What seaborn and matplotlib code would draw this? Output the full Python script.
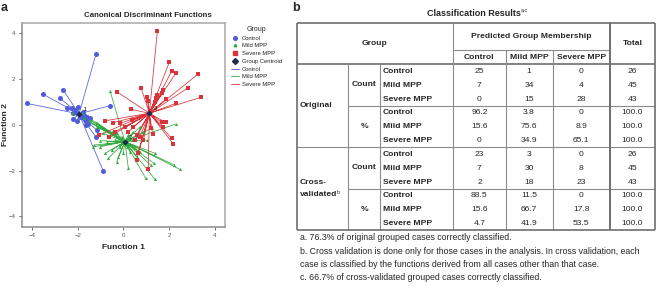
import numpy as np
import pandas as pd
import matplotlib
matplotlib.use("Agg")
import matplotlib.pyplot as plt
import seaborn as sns
from matplotlib.lines import Line2D

# ---------------- data: canonical discriminant scores ----------------
groups = ["Control", "Mild MPP", "Severe MPP"]

control_f1 = [-4.23, -3.50, -2.63, -2.77, -2.48, -1.20, -0.58, -0.88, -1.21, -1.17,
              -2.19, -2.01, -2.26, -2.12, -2.04, -1.82, -1.68, -1.58, -1.46, -1.64,
              -1.53, -1.64, -1.90, -1.75, -2.22, -1.97]
control_f2 = [0.93, 1.32, 1.51, 1.15, 0.71, 3.07, 0.83, -2.02, -0.52, -0.23,
              0.25, 0.17, 0.71, 0.64, 0.49, 0.42, 0.38, 0.35, 0.28, 0.20,
              0.03, -0.01, 0.35, 0.57, 0.49, 0.79]

mild_f1 = [-0.58, 2.29, 2.23, 2.48, 1.39, 1.34, 0.98, 1.39, 1.20, 0.22,
           -0.29, -0.66, -0.80, -0.51, -1.31, -1.27, -1.02, -0.73, -0.88, -1.17,
           -1.46, -1.72, -1.82, -2.26, 0.44, 0.73, 0.22, 0.36, -0.15, -0.36,
           0.15, 0.51, 0.73, 1.02, 1.24, 0.00, -0.22, -1.17, -0.51, -1.02,
           0.29, 0.58, -0.07, -0.29, 0.88]
mild_f2 = [1.47, 0.03, -1.76, -1.95, -1.25, -1.69, -2.34, -2.39, -1.76, -1.91,
           -1.62, -1.47, -1.25, -1.11, -0.96, -0.89, -0.70, -0.74, -0.38, 0.09,
           0.20, 0.28, 0.49, 0.52, -0.31, -0.09, -0.45, -0.67, -0.96, -0.67,
           -0.96, -1.03, -1.18, -0.67, -0.16, -1.25, -1.40, -0.09, -0.31, -0.96,
           -1.18, -1.40, -0.52, -0.38, -0.31]

severe_f1 = [1.49, 2.01, 2.12, 2.29, 3.26, 2.85, 3.39, 2.29, 1.87, 1.75,
             1.68, 1.46, 1.43, 1.39, 1.02, 0.77, 1.09, 0.34, -0.29, -0.80,
             -0.44, -0.15, -1.05, -0.61, -0.36, 0.07, 0.22, 0.44, 0.58, 0.51,
             0.63, 0.58, 1.09, 1.20, 1.28, 1.68, 1.85, 1.75, 2.12, 2.19,
             0.36, 0.73, 0.88]
severe_f2 = [4.09, 2.72, 2.34, 2.24, 2.20, 1.62, 1.19, 0.93, 1.12, 1.51,
             1.37, 1.30, 1.15, 1.00, 1.22, 1.62, 1.03, 0.67, 1.44, 0.17,
             0.09, 0.06, -0.45, -0.52, -0.31, -0.12, -0.31, -0.09, -0.45, -0.67,
             -1.25, -1.54, -1.94, -0.16, -0.41, 0.10, 0.10, -0.09, -0.60, -0.84,
             0.20, -0.52, -0.67]

centroid_f1 = [-1.94, 0.07, 1.14]
centroid_f2 = [0.47, -0.74, 0.50]
centroid_labels = ["1", "2", "3"]

# ---------------- data: classification table ----------------
pred_cols = ["Control", "Mild MPP", "Severe MPP"]
row_labels = ["Control", "Mild MPP", "Severe MPP"]
orig_count = [["25", "1", "0"], ["7", "34", "4"], ["0", "15", "28"]]
orig_pct = [["96.2", "3.8", "0"], ["15.6", "75.6", "8.9"], ["0", "34.9", "65.1"]]
cv_count = [["23", "3", "0"], ["7", "30", "8"], ["2", "18", "23"]]
cv_pct = [["88.5", "11.5", "0"], ["15.6", "66.7", "17.8"], ["4.7", "41.9", "53.5"]]
count_total = ["26", "45", "43"]
pct_total = ["100.0", "100.0", "100.0"]
footnotes = [
    "a. 76.3% of original grouped cases correctly classified.",
    "b. Cross validation is done only for those cases in the analysis. In cross validation, each",
    "case is classified by the functions derived from all cases other than that case.",
    "c. 66.7% of cross-validated grouped cases correctly classified.",
]

# ---------------- style ----------------
sns.set_style("white")
plt.rcParams["font.family"] = ["Liberation Sans", "DejaVu Sans"]

colors = {"Control": "#4F5CD8", "Mild MPP": "#33AA3E", "Severe MPP": "#D9333B"}
markers = {"Control": "o", "Mild MPP": "^", "Severe MPP": "s"}
msize = {"Control": 13, "Mild MPP": 5, "Severe MPP": 10}
centroid_color = "#1C2B4C"

fig = plt.figure(figsize=(6.56, 2.86), dpi=100)
W, H = 656, 286

def fx(px):
    return px / W

def fy(py):
    return 1 - py / H

ax_l, ax_r, ax_t, ax_b = 21.7, 225.0, 22.7, 226.7
ax = fig.add_axes([fx(ax_l), fy(ax_b), fx(ax_r) - fx(ax_l), fy(ax_t) - fy(ax_b)])

data = {
    "Control": (control_f1, control_f2),
    "Mild MPP": (mild_f1, mild_f2),
    "Severe MPP": (severe_f1, severe_f2),
}

# lines from group centroid to every case
for gi, g in enumerate(groups):
    xs, ys = [], []
    for x, y in zip(*data[g]):
        xs += [centroid_f1[gi], x, np.nan]
        ys += [centroid_f2[gi], y, np.nan]
    ax.plot(xs, ys, color=colors[g], lw=0.55, zorder=2)

for g in groups:
    df = pd.DataFrame({"Function 1": data[g][0], "Function 2": data[g][1], "Group": g})
    sns.scatterplot(data=df, x="Function 1", y="Function 2", color=colors[g],
                    marker=markers[g], s=msize[g], linewidth=0, legend=False,
                    ax=ax, zorder=3)

cdf = pd.DataFrame({"Function 1": centroid_f1, "Function 2": centroid_f2})
sns.scatterplot(data=cdf, x="Function 1", y="Function 2", color=centroid_color,
                marker="D", s=10, linewidth=0, legend=False, ax=ax, zorder=4)
for x, y, t in zip(centroid_f1, centroid_f2, centroid_labels):
    ax.text(x + 0.18, y + 0.12, t, fontsize=4, color="black", zorder=5)

ax.set_xlim(-4.45, 4.45)
ax.set_ylim(-4.45, 4.45)
ax.set_xticks([-4, -2, 0, 2, 4])
ax.set_yticks([-4, -2, 0, 2, 4])
ax.tick_params(axis="both", labelsize=4.3, colors="#555555", length=2.5, width=0.6,
               direction="out", pad=2, bottom=True, left=True)
ax.set_xlabel("Function 1", fontsize=6, fontweight="bold", labelpad=4)
ax.set_ylabel("Function 2", fontsize=6, fontweight="bold")
ax.yaxis.label.set_va("center")
ax.yaxis.set_label_coords((5.5 - ax_l) / (ax_r - ax_l), 0.5)
for side, sp in ax.spines.items():
    sp.set_color("#8A8A8A" if side in ("left", "bottom") else "#A8A8A8")
    sp.set_linewidth(1.1)

fig.text(fx(148), fy(15.7), "Canonical Discriminant Functions", fontsize=5.7,
         fontweight="bold", ha="center", va="center")

handles = [
    Line2D([], [], ls="none", marker="o", ms=2.6, color=colors["Control"], label="Control"),
    Line2D([], [], ls="none", marker="^", ms=1.8, color=colors["Mild MPP"], label="Mild MPP"),
    Line2D([], [], ls="none", marker="s", ms=2.4, color=colors["Severe MPP"], label="Severe MPP"),
    Line2D([], [], ls="none", marker="D", ms=3.0, color=centroid_color, label="Group Centroid"),
    Line2D([], [], color=colors["Control"], lw=0.6, label="Control"),
    Line2D([], [], color=colors["Mild MPP"], lw=0.6, label="Mild MPP"),
    Line2D([], [], color=colors["Severe MPP"], lw=0.6, label="Severe MPP"),
]
leg = ax.legend(handles=handles, title="Group", loc="upper left",
                bbox_to_anchor=(fx(231), fy(26)), bbox_transform=fig.transFigure,
                frameon=False, fontsize=4.2, title_fontsize=5, labelspacing=0.45,
                handlelength=1.3, handletextpad=0.5, borderpad=0, borderaxespad=0)

# ---------------- overlay for the table and panel letters ----------------
ov = fig.add_axes([0, 0, 1, 1])
ov.set_xlim(0, W)
ov.set_ylim(H, 0)
ov.axis("off")
ov.patch.set_alpha(0)

ov.text(1, 8, "a", fontsize=9, fontweight="bold", ha="left", va="center")
ov.text(292, 8, "b", fontsize=9, fontweight="bold", ha="left", va="center")

X0, XC1, XC2, XC3, XP1, XP2, XP3, XR = 296.7, 348.3, 380.0, 453.3, 505.5, 552.5, 610.0, 655.0
Y0, YS, YH, YB = 23.0, 50.0, 64.0, 230.0
rh = (YB - YH) / 12.0
inner = dict(color="#8C8C8C", lw=0.8)
outer = dict(color="#6E6E6E", lw=1.2)

def hl(y, x0, x1, **kw):
    ov.plot([x0, x1], [y, y], solid_capstyle="butt", **kw)

def vl(x, y0, y1, **kw):
    ov.plot([x, x], [y0, y1], solid_capstyle="butt", **kw)

# grid
hl(YS, XC3, XP3, **inner)
hl(YH, X0, XR, **outer)
hl(YH + 6 * rh, X0, XR, **inner)
for k in (3, 9):
    hl(YH + k * rh, XC1, XR, **inner)
vl(XC1, YH, YB, **inner)
vl(XC2, YH, YB, **inner)
vl(XC3, Y0, YB, **inner)
vl(XP1, YS, YB, **inner)
vl(XP2, YS, YB, **inner)
vl(XP3, Y0, YB, color="#6E6E6E", lw=1.4)
hl(Y0, X0, XR, **outer)
hl(YB, X0, XR, **outer)
vl(X0, Y0, YB, **outer)
vl(XR, Y0, YB, **outer)

fs = 6.1
t = ov.text(474, 13, "Classification Results", fontsize=6.5, fontweight="bold",
            ha="center", va="center")
ov.annotate("a,c", xy=(1.0, 0.85), xycoords=t, fontsize=3.8, ha="left", va="center")

ov.text((X0 + XC3) / 2, (Y0 + YH) / 2, "Group", fontsize=fs, fontweight="bold",
        ha="center", va="center")
ov.text((XC3 + XP3) / 2, (Y0 + YS) / 2, "Predicted Group Membership", fontsize=fs,
        fontweight="bold", ha="center", va="center")
ov.text((XP3 + XR) / 2, (Y0 + YH) / 2, "Total", fontsize=fs, fontweight="bold",
        ha="center", va="center")
col_centers = [(XC3 + XP1) / 2, (XP1 + XP2) / 2, (XP2 + XP3) / 2]
for cx, lab in zip(col_centers, pred_cols):
    ov.text(cx, (YS + YH) / 2 + 0.5, lab, fontsize=fs, fontweight="bold",
            ha="center", va="center")

ov.text(X0 + 3, YH + 3 * rh, "Original", fontsize=fs, fontweight="bold",
        ha="left", va="center")
t2 = ov.text(X0 + 3, YH + 9 * rh - 5.5, "Cross-", fontsize=fs, fontweight="bold",
             ha="left", va="center")
t3 = ov.text(X0 + 3, YH + 9 * rh + 6.5, "validated", fontsize=fs, fontweight="bold",
             ha="left", va="center")
ov.annotate("b", xy=(1.0, 0.8), xycoords=t3, fontsize=3.8, ha="left", va="center")

blocks = [("Count", orig_count, count_total), ("%", orig_pct, pct_total),
          ("Count", cv_count, count_total), ("%", cv_pct, pct_total)]
for b, (kind, vals, tot) in enumerate(blocks):
    ov.text((XC1 + XC2) / 2, YH + (3 * b + 1.5) * rh, kind, fontsize=fs,
            fontweight="bold", ha="center", va="center")
    for r in range(3):
        yc = YH + (3 * b + r + 0.5) * rh + 0.5
        ov.text(XC2 + 3, yc, row_labels[r], fontsize=fs, fontweight="bold",
                ha="left", va="center")
        for c in range(3):
            ov.text(col_centers[c], yc, vals[r][c], fontsize=fs, ha="center", va="center")
        ov.text((XP3 + XR) / 2, yc, tot[r], fontsize=fs, ha="center", va="center")

for yy, line in zip([237.5, 251.5, 264.5, 278], footnotes):
    ov.text(X0 + 3, yy, line, fontsize=6.3, ha="left", va="center")

fig.savefig("out.png", dpi=100)
